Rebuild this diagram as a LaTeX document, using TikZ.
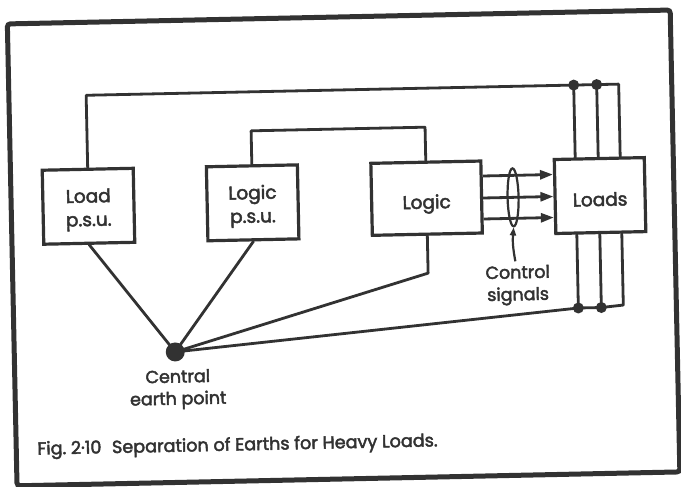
\documentclass[tikz,border=0pt]{standalone}
\usepackage{fontspec}
\setmainfont{Poppins}[FakeBold=2.5]
\usetikzlibrary{arrows.meta,shapes.geometric}
\definecolor{ink}{RGB}{50,50,50}
\newcommand{\twoline}[2]{\raisebox{-8pt}[0pt][0pt]{\begin{tabular}{@{}c@{}}#1\\[1.5pt]#2\end{tabular}}}
\newcommand{\oneline}[1]{\raisebox{-10.5pt}[0pt][0pt]{#1}}
\begin{document}
\begin{tikzpicture}[x=1pt,y=-1pt,
  blk/.style={draw=ink,text=ink,line width=3.2pt,minimum width=91pt,minimum height=74pt,inner sep=0pt,align=center,font=\fontsize{18.5}{22}\selectfont},
  wire/.style={draw=ink,line width=2.8pt,line join=round,line cap=round},
  arr/.style={wire,line cap=butt,-{Triangle[length=13pt,width=9pt]}},
  jdot/.style={circle,fill=ink,inner sep=0pt,minimum size=11pt},
  lbl/.style={text=ink,align=center,font=\fontsize{17.5}{22}\selectfont,inner sep=0pt}]
\useasboundingbox (0,0) rectangle (681,487);
\fill[white] (0,0) rectangle (681,487);
\begin{scope}[rotate around={1.2:(340,243)},transform shape]
  % frame
  \draw[ink,line width=5pt,rounded corners=3pt] (12,17) rectangle (675,479);
  % blocks
  \node[blk] (lpsu) at (89.3,201) {\twoline{Load}{p.s.u.}};
  \node[blk] (gpsu) at (253.5,201) {\twoline{Logic}{p.s.u.}};
  \node[blk,minimum width=110pt,minimum height=72pt] (logic) at (427.5,200) {\oneline{Logic}};
  \node[blk,minimum width=90pt] (loads) at (601,201) {\oneline{Loads}};
  % earth point
  \node[circle,fill=ink,minimum size=19pt,inner sep=0pt] (earth) at (173,348.5) {};
  \node[lbl] (cep) at (175,386) {Central\\earth point};
  % top rail
  \coordinate (t1) at (577,90);
  \coordinate (t2) at (600,90);
  \coordinate (t3) at (622,90);
  \draw[wire] (lpsu.north) |- (t3) -- (t3 |- loads.north);
  \draw[wire] (t1) -- (t1 |- loads.north);
  \draw[wire] (t2) -- (t2 |- loads.north);
  \node[jdot] (dt1) at (t1) {};
  \node[jdot] (dt2) at (t2) {};
  % second rail
  \coordinate (r2) at (254,129);
  \draw[wire] (gpsu.north) -- (gpsu.north |- r2) -| (logic.north);
  % bottom rail
  \coordinate (b1) at (577,313);
  \coordinate (b2) at (600,313);
  \coordinate (b3) at (622,311);
  \draw[wire] (earth.center) -- (b1) -- (b2) -- (b3) -- (b3 |- loads.south);
  \draw[wire] (b1) -- (b1 |- loads.south);
  \draw[wire] (b2) -- (b2 |- loads.south);
  \node[jdot] (db1) at (b1) {};
  \node[jdot] (db2) at (b2) {};
  % earth connections
  \coordinate (lb) at (427.5,275);
  \draw[wire] (logic.south) -- (lb) -- (earth.center);
  \draw[wire] (lpsu.south) -- (earth.center);
  \draw[wire] (gpsu.south) -- (earth.center);
  % control signals
  \draw[arr] (logic.east |- 0,179) -- (loads.west |- 0,179);
  \draw[arr] (logic.east |- 0,201) -- (loads.west |- 0,201);
  \draw[arr] (logic.east |- 0,222) -- (loads.west |- 0,222);
  \node[draw=ink,line width=2.2pt,ellipse,minimum width=11pt,minimum height=58pt,inner sep=0pt] (loop) at (514,201) {};
  \node[lbl] (ctl) at (517,289) {Control\\signals};
  \coordinate (pt) at (515,265);
  \draw[ink,line width=2.2pt,-{Triangle[length=8pt,width=6pt]}] (pt) to[bend left=8] (loop.south);
  % caption
  \node[lbl,anchor=west,font=\fontsize{17.6}{20}\selectfont] (cap) at (33,444) {Fig.\ 2·10\hspace{0.6em}Separation of Earths for Heavy Loads.};
\end{scope}
\end{tikzpicture}
\end{document}
